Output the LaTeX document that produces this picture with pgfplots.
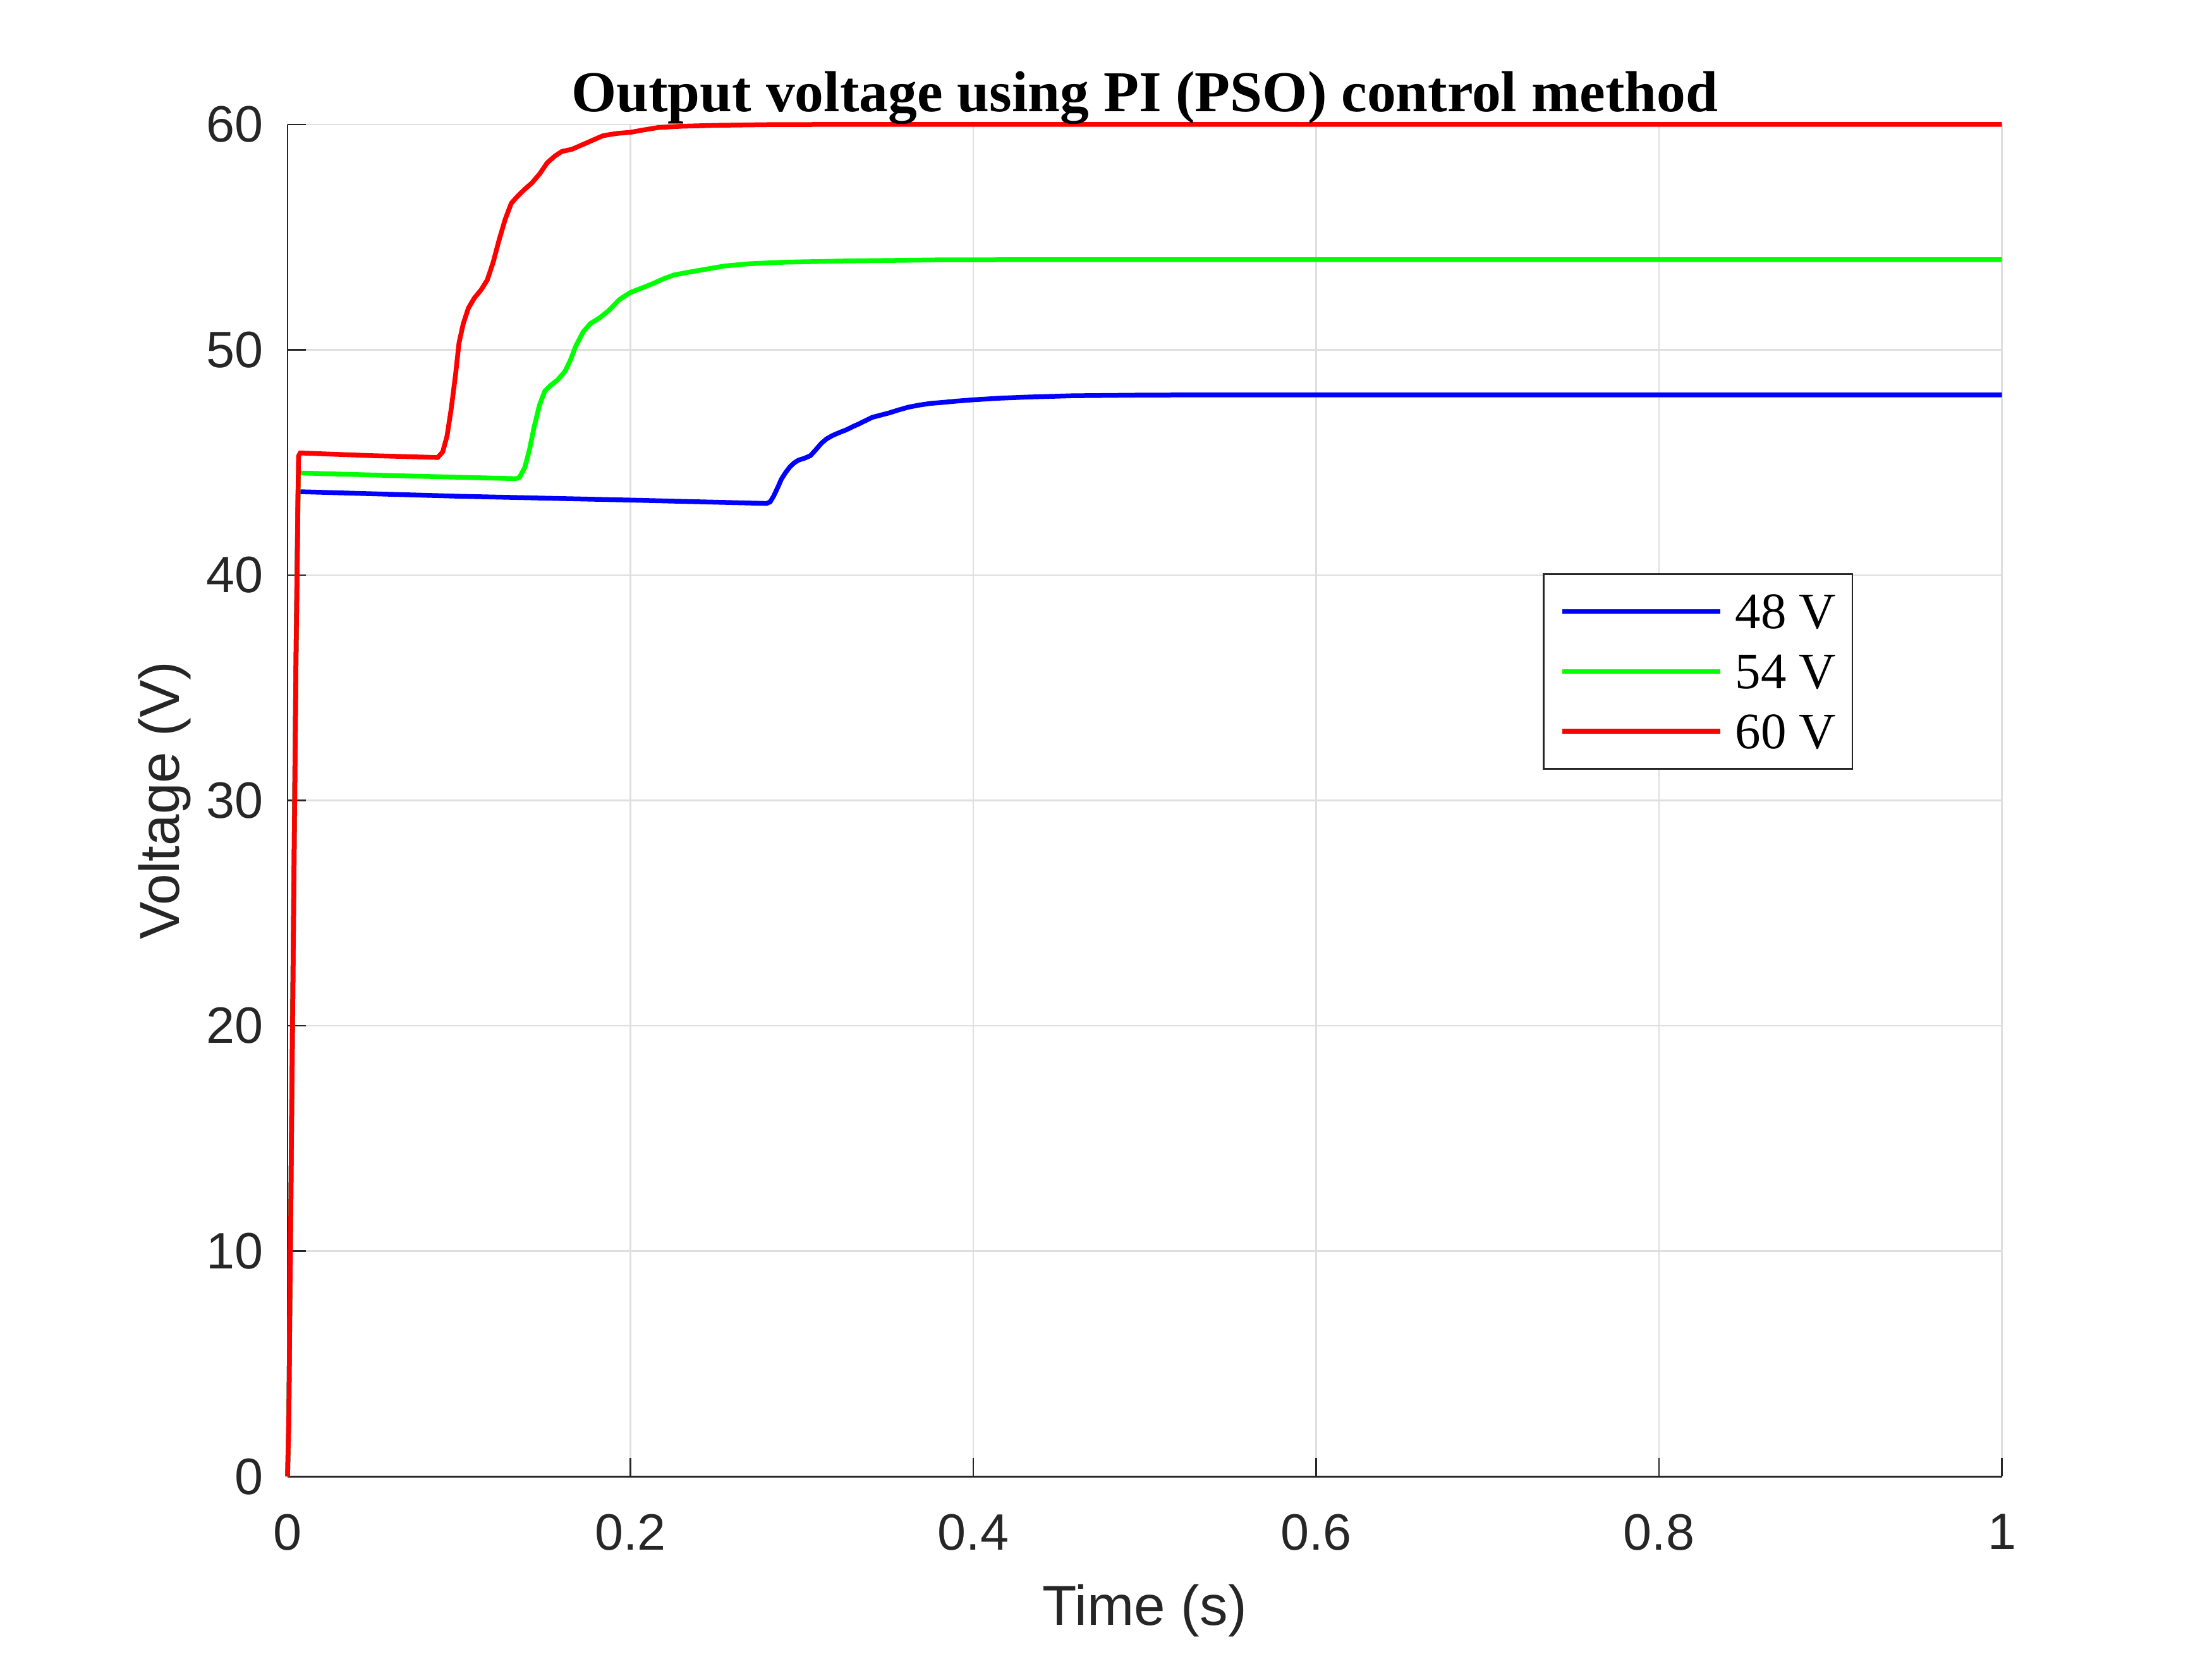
\documentclass[border=0pt]{standalone}
\usepackage{fontspec}
\setmainfont{Liberation Sans}
\newfontfamily\timesfont{Liberation Serif}
\usepackage{pgfplots}
\pgfplotsset{compat=1.18}
\definecolor{axiscol}{RGB}{38,38,38}
\definecolor{gridcol}{RGB}{223,223,223}
\definecolor{cblue}{RGB}{0,0,255}
\definecolor{cgreen}{RGB}{0,255,0}
\definecolor{cred}{RGB}{255,0,0}
\begin{document}
\begin{tikzpicture}
\path[use as bounding box] (0,0) rectangle (560bp,420bp);
\begin{axis}[
  at={(72.8bp,46.2bp)}, anchor=south west,
  scale only axis, width=434bp, height=342.3bp,
  xmin=0, xmax=1, ymin=0, ymax=60,
  axis lines*=left,
  axis line style={-, color=axiscol, line width=0.43bp},
  tick align=inside,
  major tick length=4.6bp,
  tick style={color=axiscol, line width=0.43bp},
  grid=major,
  grid style={color=gridcol, line width=0.43bp},
  xtick={0,0.2,0.4,0.6,0.8,1},
  xticklabels={0,0.2,0.4,0.6,0.8,1},
  ytick={0,10,20,30,40,50,60},
  yticklabels={0,10,20,30,40,50,60},
  /pgf/number format/assume math mode=true,
  ticklabel style={font=\fontsize{13}{15}\selectfont, color=axiscol, inner sep=0pt},
  xticklabel style={anchor=north, yshift=-9.3bp},
  yticklabel style={anchor=east, xshift=-5.9bp},
  xlabel={Time (s)},
  ylabel={Voltage (V)},
  label style={font=\fontsize{14.3}{16}\selectfont, color=axiscol, inner sep=0pt},
  xlabel style={at={(axis description cs:0.5,-0.10985)}, anchor=base},
  ylabel style={at={(axis description cs:-0.06336,0.5)}, anchor=base, rotate=0},
  every axis title shift=0pt,
  title={Output voltage using PI (PSO) control method},
  title style={at={(axis description cs:0.5,1.00935)}, anchor=base, inner sep=0pt,
    font=\timesfont\bfseries\fontsize{14.7}{16}\selectfont, color=black},
  clip=false,
  legend image code/.code={\draw[#1] (0bp,0bp) -- (40bp,0bp);},
  legend cell align=left,
  legend style={at={(axis description cs:0.7323,0.668)}, anchor=north west,
    draw=axiscol, line width=0.43bp, fill=white,
    inner xsep=4.1bp, inner ysep=5.15bp,
    column sep=3.2bp, row sep=6.6bp,
    nodes={inner sep=0pt, text depth=0pt},
    font=\timesfont\fontsize{13}{15}\selectfont, text=black},
]
\addplot[cblue, line width=1.2bp] coordinates {
(0,0) (0.0007,2.4) (0.0049,36.1) (0.0061,43.7) (0.008,43.7)
(0.1,43.5) (0.2,43.33) (0.2794,43.18)
(0.2815,43.25) (0.2835,43.5) (0.286,43.9) (0.288,44.25) (0.2905,44.55) (0.293,44.8)
(0.2955,44.98) (0.298,45.1) (0.302,45.2) (0.305,45.3) (0.308,45.55) (0.3114,45.85)
(0.3145,46.05) (0.318,46.2) (0.322,46.33) (0.326,46.45) (0.33,46.6) (0.333,46.7)
(0.337,46.85) (0.341,47.0) (0.346,47.1) (0.351,47.2) (0.356,47.32) (0.362,47.45)
(0.368,47.54) (0.375,47.62) (0.383,47.67) (0.390,47.72) (0.4,47.78) (0.415,47.85)
(0.431,47.9) (0.458,47.96) (0.5,47.99) (0.55,48) (1,48)
};
\addplot[cgreen, line width=1.2bp] coordinates {
(0,0) (0.0007,2.4) (0.0049,36.1) (0.0063,44.53) (0.008,44.53)
(0.07,44.4) (0.1332,44.28)
(0.1353,44.34) (0.1384,44.78) (0.141,45.53) (0.1437,46.53) (0.1469,47.53) (0.150,48.16)
(0.1533,48.41) (0.1575,48.66) (0.1618,49.04) (0.165,49.54) (0.1681,50.16) (0.1724,50.79)
(0.1766,51.16) (0.1819,51.41) (0.1872,51.73) (0.1936,52.23) (0.1999,52.54) (0.2063,52.73)
(0.2126,52.92) (0.219,53.14) (0.2254,53.32) (0.2338,53.44) (0.2444,53.58) (0.255,53.72)
(0.2699,53.82) (0.291,53.89) (0.325,53.94) (0.38,53.99) (0.45,54) (1,54)
};
\addplot[cred, line width=1.2bp] coordinates {
(0,0) (0.0007,2.4) (0.0049,36.1) (0.0064,45.28) (0.0074,45.42)
(0.05,45.3) (0.0876,45.22)
(0.0905,45.47) (0.093,46.16) (0.0955,47.4) (0.098,48.9) (0.100,50.3) (0.1025,51.16)
(0.1055,51.85) (0.109,52.3) (0.113,52.67) (0.1165,53.1) (0.120,53.9) (0.1235,54.9)
(0.127,55.8) (0.1305,56.5) (0.134,56.8) (0.138,57.1) (0.1425,57.4) (0.147,57.8)
(0.1515,58.3) (0.156,58.6) (0.160,58.8) (0.166,58.9) (0.172,59.1) (0.178,59.3)
(0.184,59.5) (0.192,59.6) (0.200,59.65) (0.208,59.76) (0.216,59.86) (0.230,59.92)
(0.250,59.96) (0.28,59.99) (0.32,60) (1,60)
};
\legend{48 V, 54 V, 60 V}
\end{axis}
\end{tikzpicture}
\end{document}
